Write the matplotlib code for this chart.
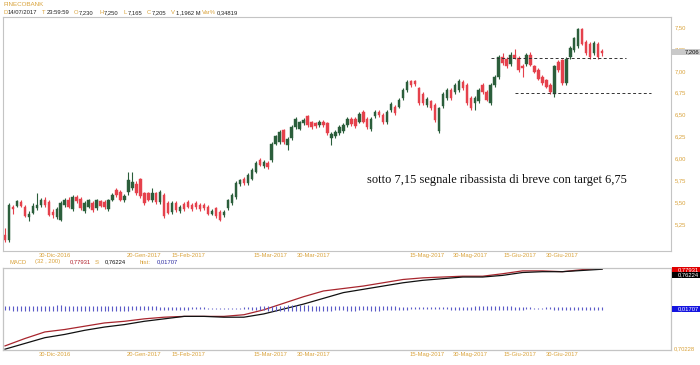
import matplotlib
matplotlib.use('Agg')
import matplotlib.pyplot as plt
from matplotlib.patches import Rectangle
import numpy as np

# ---------------- data ----------------
opens = [5.12, 5.07, 5.45, 5.46, 5.50, 5.45, 5.33, 5.38, 5.43, 5.47,
         5.53, 5.50, 5.39, 5.33, 5.30, 5.47, 5.53, 5.42, 5.56, 5.54,
         5.40, 5.45, 5.49, 5.43, 5.51, 5.50, 5.42, 5.53, 5.64, 5.62,
         5.52, 5.62, 5.66, 5.71, 5.76, 5.60, 5.60, 5.52, 5.60, 5.50,
         5.58, 5.49, 5.39, 5.49, 5.40, 5.48, 5.50, 5.47, 5.49, 5.47,
         5.47, 5.45, 5.37, 5.43, 5.39, 5.35, 5.43, 5.49, 5.56, 5.71,
         5.77, 5.72, 5.77, 5.85, 5.98, 5.91, 5.95, 5.98, 6.17, 6.19,
         6.32, 6.15, 6.23, 6.36, 6.34, 6.40, 6.48, 6.41, 6.40, 6.38,
         6.42, 6.40, 6.23, 6.25, 6.29, 6.31, 6.38, 6.45, 6.45, 6.42,
         6.53, 6.45, 6.33, 6.48, 6.53, 6.50, 6.41, 6.55, 6.59, 6.59,
         6.69, 6.78, 6.88, 6.88, 6.80, 6.74, 6.61, 6.65, 6.61, 6.31,
         6.60, 6.69, 6.78, 6.76, 6.78, 6.87, 6.84, 6.69, 6.63, 6.65,
         6.84, 6.76, 6.63, 6.84, 6.93, 7.16, 7.14, 7.08, 7.18, 7.15,
         7.06, 7.08, 7.18, 7.05, 7.01, 6.93, 6.89, 6.84, 6.74, 7.10,
         7.12, 6.86, 7.16, 7.24, 7.28, 7.48, 7.33, 7.31, 7.20, 7.31,
         7.23]
highs = [5.20, 5.49, 5.47, 5.53, 5.52, 5.47, 5.40, 5.49, 5.60, 5.55,
         5.56, 5.52, 5.42, 5.44, 5.51, 5.55, 5.56, 5.58, 5.58, 5.56,
         5.51, 5.54, 5.51, 5.54, 5.53, 5.52, 5.54, 5.61, 5.66, 5.64,
         5.59, 5.85, 5.84, 5.74, 5.78, 5.62, 5.62, 5.66, 5.62, 5.64,
         5.60, 5.51, 5.51, 5.51, 5.47, 5.50, 5.52, 5.49, 5.51, 5.49,
         5.49, 5.47, 5.42, 5.45, 5.41, 5.41, 5.54, 5.60, 5.74, 5.77,
         5.79, 5.83, 5.89, 5.97, 6.00, 5.98, 5.97, 6.19, 6.27, 6.32,
         6.34, 6.24, 6.38, 6.47, 6.43, 6.46, 6.50, 6.43, 6.42, 6.44,
         6.44, 6.42, 6.30, 6.32, 6.38, 6.40, 6.47, 6.47, 6.47, 6.53,
         6.55, 6.47, 6.47, 6.55, 6.55, 6.52, 6.55, 6.64, 6.61, 6.69,
         6.80, 6.90, 6.90, 6.90, 6.82, 6.76, 6.70, 6.67, 6.63, 6.59,
         6.76, 6.80, 6.80, 6.86, 6.91, 6.89, 6.86, 6.71, 6.71, 6.80,
         6.86, 6.78, 6.86, 6.95, 7.18, 7.20, 7.16, 7.22, 7.25, 7.17,
         7.08, 7.20, 7.22, 7.07, 7.03, 6.95, 6.91, 6.86, 7.07, 7.12,
         7.14, 7.16, 7.28, 7.39, 7.49, 7.49, 7.35, 7.33, 7.34, 7.33,
         7.25]
lows = [5.05, 5.05, 5.36, 5.44, 5.44, 5.33, 5.28, 5.36, 5.41, 5.45,
        5.45, 5.34, 5.32, 5.31, 5.29, 5.45, 5.43, 5.40, 5.49, 5.41,
        5.38, 5.43, 5.39, 5.41, 5.44, 5.42, 5.40, 5.51, 5.56, 5.51,
        5.50, 5.58, 5.64, 5.58, 5.55, 5.47, 5.51, 5.50, 5.48, 5.48,
        5.32, 5.36, 5.37, 5.39, 5.38, 5.40, 5.43, 5.40, 5.42, 5.40,
        5.41, 5.35, 5.35, 5.32, 5.28, 5.33, 5.41, 5.47, 5.54, 5.69,
        5.70, 5.70, 5.75, 5.83, 5.91, 5.89, 5.88, 5.96, 6.15, 6.17,
        6.17, 6.10, 6.21, 6.34, 6.32, 6.38, 6.36, 6.34, 6.35, 6.36,
        6.36, 6.27, 6.15, 6.23, 6.27, 6.29, 6.36, 6.37, 6.35, 6.40,
        6.40, 6.34, 6.31, 6.46, 6.47, 6.39, 6.39, 6.53, 6.50, 6.57,
        6.67, 6.76, 6.82, 6.83, 6.61, 6.61, 6.59, 6.55, 6.42, 6.29,
        6.58, 6.67, 6.67, 6.74, 6.76, 6.78, 6.61, 6.55, 6.55, 6.63,
        6.74, 6.65, 6.61, 6.82, 6.91, 7.07, 7.03, 7.06, 7.13, 6.99,
        6.93, 7.06, 7.05, 6.97, 6.89, 6.84, 6.80, 6.73, 6.70, 6.99,
        6.84, 6.84, 7.14, 7.22, 7.26, 7.29, 7.18, 7.14, 7.18, 7.14,
        7.165]
closes = [5.07, 5.47, 5.42, 5.51, 5.46, 5.34, 5.37, 5.46, 5.47, 5.52,
          5.47, 5.35, 5.35, 5.42, 5.49, 5.53, 5.45, 5.56, 5.51, 5.43,
          5.49, 5.52, 5.41, 5.52, 5.46, 5.44, 5.52, 5.58, 5.58, 5.53,
          5.57, 5.75, 5.73, 5.60, 5.57, 5.49, 5.53, 5.60, 5.50, 5.62,
          5.34, 5.38, 5.49, 5.41, 5.45, 5.42, 5.45, 5.42, 5.45, 5.42,
          5.43, 5.37, 5.40, 5.34, 5.30, 5.39, 5.52, 5.58, 5.72, 5.75,
          5.72, 5.81, 5.87, 5.95, 5.93, 5.96, 5.90, 6.17, 6.25, 6.30,
          6.19, 6.22, 6.36, 6.45, 6.41, 6.44, 6.38, 6.36, 6.37, 6.42,
          6.38, 6.29, 6.28, 6.30, 6.36, 6.38, 6.45, 6.39, 6.37, 6.51,
          6.42, 6.36, 6.45, 6.53, 6.49, 6.41, 6.53, 6.62, 6.52, 6.67,
          6.78, 6.87, 6.84, 6.85, 6.63, 6.63, 6.68, 6.57, 6.44, 6.57,
          6.74, 6.78, 6.69, 6.84, 6.88, 6.80, 6.63, 6.57, 6.69, 6.78,
          6.76, 6.67, 6.84, 6.93, 7.16, 7.09, 7.05, 7.18, 7.15, 7.01,
          7.03, 7.18, 7.07, 6.99, 6.91, 6.86, 6.82, 6.76, 7.05, 7.01,
          6.86, 7.14, 7.26, 7.37, 7.48, 7.31, 7.20, 7.16, 7.32, 7.16,
          7.205]

# MACD panel lines (read as fraction of panel height) sampled every 5 bars
macd_idx = [0, 5, 10, 15, 20, 25, 30, 35, 40, 45, 50, 55, 60, 65, 70, 75,
            80, 85, 90, 95, 100, 105, 110, 115, 120, 125, 130, 135, 140, 145, 150]
macd_line = [0.05, 0.14, 0.22, 0.25, 0.29, 0.33, 0.35, 0.38, 0.40, 0.41,
             0.41, 0.41, 0.43, 0.49, 0.57, 0.65, 0.72, 0.75, 0.78, 0.82,
             0.86, 0.88, 0.89, 0.90, 0.90, 0.93, 0.965, 0.965, 0.955, 0.98, 0.99]
signal_line = [0.01, 0.08, 0.15, 0.19, 0.24, 0.28, 0.31, 0.35, 0.38, 0.41,
               0.41, 0.40, 0.40, 0.44, 0.50, 0.56, 0.63, 0.70, 0.74, 0.78,
               0.82, 0.85, 0.87, 0.89, 0.89, 0.91, 0.945, 0.955, 0.955, 0.97, 0.985]
hist_vals = [4, 4, 5, 5, 5, 5, 5, 5, 5, 5,
             5, 5, 5, 6, 6, 5, 5, 5, 5, 5,
             5, 5, 5, 5, 5, 5, 5, 5, 5, 5,
             5, 5, 4, 4, 4, 4, 4, 4, 4, 3,
             3, 3, 3, 3, 3, 3, 3, 2, 2, 2,
             2, 1, 1, 1, 1, 1, 1, 1, 1, 1,
             2, 2, 3, 3, 4, 4, 5, 5, 5, 5,
             5, 6, 6, 6, 6, 6, 6, 5, 5, 5,
             5, 5, 5, 4, 4, 4, 5, 5, 5, 4,
             4, 4, 5, 5, 5, 4, 4, 4, 4, 3,
             3, 3, 2, 2, 2, 2, 2, 2, 2, 2,
             2, 2, 3, 3, 3, 3, 3, 3, 4, 4,
             4, 4, 4, 4, 4, 4, 4, 4, 3, 3,
             3, 2, 2, 1, 1, 1, 2, 2, 3, 3,
             3, 3, 3, 3, 3, 3, 3, 3, 3, 3, 3]

date_pos = [12.5, 35, 46, 66.7, 77.5, 106, 116.8, 129.3, 140]
date_labels = ['30-Dic-2016', '20-Gen-2017', '15-Feb-2017', '15-Mar-2017', '30-Mar-2017',
               '15-Mag-2017', '30-Mag-2017', '15-Giu-2017', '30-Giu-2017']
price_ticks = [5.25, 5.50, 5.75, 6.00, 6.25, 6.50, 6.75, 7.00, 7.25, 7.50]
price_tick_labels = ['5,25', '5,50', '5,75', '6,00', '6,25', '6,50', '6,75', '7,00', '7,25', '7,50']
levels = [7.15, 6.75]
note = 'sotto 7,15 segnale ribassista di breve con target 6,75'

header_title = 'FINECOBANK'
header_items = [('D', '14/07/2017'), ('T', '23:59:59'), ('O', '7,230'), ('H', '7,250'),
                ('L', '7,165'), ('C', '7,205'), ('V', '1,1962 M'), ('Var%', '0,34819')]

# ---------------- style ----------------
ORANGE = '#d9a23a'
GREEN = '#2b5e3b'
RED = '#e5414c'
FRAME = '#c4c4c4'
SMALL = 4.2
plt.rcParams['font.family'] = ['Liberation Sans', 'DejaVu Sans']

W, H = 700, 365
fig = plt.figure(figsize=(7, 3.65), dpi=100)

def fx(px):
    return px / W

def fy(py):
    return 1 - py / H

ax = fig.add_axes([fx(3), fy(251), fx(668), 234 / H])
axm = fig.add_axes([fx(3), fy(350), fx(668), 82 / H])

o = np.array(opens); h = np.array(highs); l = np.array(lows); c = np.array(closes)
idx = np.arange(len(o))
up = c >= o
cols = np.where(up, GREEN, RED)

ax.vlines(idx, l, h, colors=cols, linewidth=0.8)
body_lo = np.minimum(o, c)
body_h = np.maximum(np.abs(c - o), 0.008)
ax.bar(idx, body_h, bottom=body_lo, width=0.62, color=cols, edgecolor=cols, linewidth=0.3)

ax.set_xlim(-0.5, 167.3)
ax.set_ylim(4.943, 7.614)
ax.yaxis.tick_right()
ax.set_yticks(price_ticks)
ax.set_yticklabels(price_tick_labels)
ax.tick_params(axis='y', length=0, pad=3, labelsize=SMALL, labelcolor=ORANGE)
ax.set_xticks(date_pos)
ax.set_xticklabels(date_labels)
ax.tick_params(axis='x', length=0, pad=1.2, labelsize=SMALL, labelcolor=ORANGE)
for s in ax.spines.values():
    s.set_color(FRAME)
    s.set_linewidth(0.8)

# support/target dashed lines
ax.hlines(levels[0], 122, 156, colors='#333333', linestyles=(0, (3, 2.5)), linewidth=0.7)
ax.hlines(levels[1], 128, 162.4, colors='#333333', linestyles=(0, (3, 2.5)), linewidth=0.7)

ax.text(0.545, 0.305, note, transform=ax.transAxes, ha='left', va='center',
        fontsize=8.9, family=['Liberation Serif', 'DejaVu Serif'], color='#111111')

# ---------------- MACD panel ----------------
axm.plot(macd_idx, macd_line, color='#a8262e', linewidth=0.9)
axm.plot(macd_idx, signal_line, color='#111111', linewidth=0.9)
axm.set_xlim(-0.5, 167.3)
axm.set_ylim(0, 1)
axh = axm.twinx()
hv = np.array(hist_vals, dtype=float)
axh.vlines(np.arange(len(hv)), -hv / 2, hv / 2, colors='#5a5ac8', linewidth=0.8)
axh.set_ylim(-41.8, 40.2)
axh.set_yticks([])
for a in (axm, axh):
    for s in a.spines.values():
        s.set_color(FRAME)
        s.set_linewidth(0.8)
axm.set_yticks([])
axm.set_xticks(date_pos)
axm.set_xticklabels(date_labels)
axm.tick_params(axis='x', length=0, pad=1.2, labelsize=SMALL, labelcolor=ORANGE)

# ---------------- header texts ----------------
fig.text(fx(3), fy(4), header_title, ha='left', va='center', fontsize=SMALL + 0.3, color=ORANGE)
hx = [3, 42, 74, 99, 123, 147, 171, 202]
for (lab, val), x0 in zip(header_items, hx):
    fig.text(fx(x0), fy(13), lab, ha='left', va='center', fontsize=SMALL, color=ORANGE)
    off = 4.5 if len(lab) == 1 else 15
    fig.text(fx(x0 + off), fy(13), val, ha='left', va='center', fontsize=SMALL, color='#222222')

macd_hdr = [(10, 'MACD', ORANGE), (35, '(32 , 200)', ORANGE), (70, '0,77931', '#b0202a'),
            (95, 'S:', ORANGE), (105, '0,76224', '#111111'), (140, 'hist:', ORANGE),
            (157, '0,01707', '#2a2aa0')]
for x0, s, col in macd_hdr:
    fig.text(fx(x0), fy(262), s, ha='left', va='center', fontsize=SMALL, color=col)

# right side value boxes
def value_box(py, txt, bg, fg):
    fig.patches.append(Rectangle((fx(672), fy(py + 3.2)), fx(28), 6.4 / H,
                                 transform=fig.transFigure, facecolor=bg, edgecolor='none'))
    fig.text(fx(699), fy(py), txt, ha='right', va='center', fontsize=SMALL, color=fg)

value_box(52, '7,206', '#c9c9c9', '#111111')
value_box(270, '0,77931', '#e00000', '#ffffff')
value_box(275, '0,76224', '#000000', '#ffffff')
value_box(309, '0,01707', '#1414e0', '#ffffff')
fig.text(fx(674), fy(349), '0,70228', ha='left', va='center', fontsize=SMALL, color=ORANGE)

fig.savefig('out.png', dpi=100)
